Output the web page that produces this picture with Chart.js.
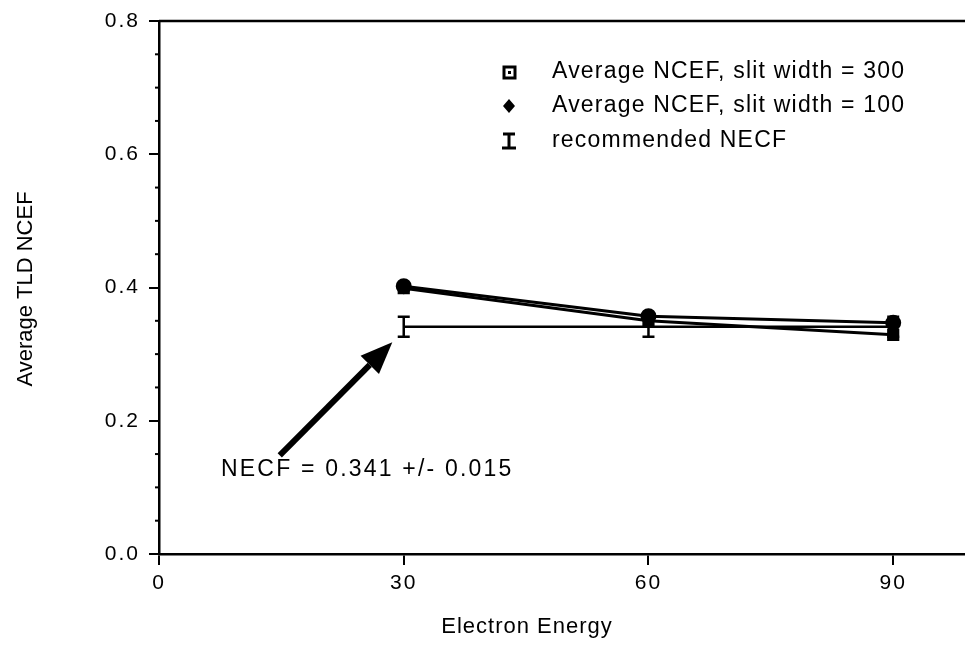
<!DOCTYPE html>
<html>
<head>
<meta charset="utf-8">
<script src="https://cdn.jsdelivr.net/npm/chart.js@4.4.0/dist/chart.umd.min.js"></script>
<style>
body { margin: 0; background: #fff; }
#wrap { width: 965px; height: 652px; }
</style>
</head>
<body>
<div id="wrap"><canvas id="chart"></canvas></div>
<script>
const energies = [30, 60, 90];
const ncefSlit300 = [0.399, 0.350, 0.329];
const ncefSlit100 = [0.402, 0.357, 0.347];
const recommendedNecf = [0.341, 0.341, 0.341];
const recommendedErr = [0.015, 0.015, 0.015];
const legendLabels = ["Average NCEF, slit width = 300", "Average NCEF, slit width = 100", "recommended NECF"];
const noteText = "NECF = 0.341 +/- 0.015";
const xTitle = "Electron Energy";
const yTitle = "Average TLD NCEF";

const FONT = '"Liberation Sans", Arial, Helvetica, sans-serif';

function pts(ys) {
    return energies.map((x, i) => ({ x: x, y: ys[i] }));
}

// draws the extra bits: error bars, legend, arrow note, titles, minor ticks
const extras = {
    id: 'extras',
    beforeDraw(chart) {
        const ctx = chart.ctx;
        ctx.save();
        ctx.fillStyle = '#fff';
        ctx.fillRect(0, 0, chart.width, chart.height);
        ctx.restore();
        ctx.letterSpacing = '2px';
    },
    afterDatasetDraw(chart, args) {
        if (args.index !== 2) return;
        const ctx = chart.ctx;
        const xs = chart.scales.x, ys = chart.scales.y;
        ctx.save();
        ctx.strokeStyle = '#000';
        ctx.lineWidth = 2.5;
        recommendedNecf.forEach((v, i) => {
            const px = xs.getPixelForValue(energies[i]);
            const top = ys.getPixelForValue(v + recommendedErr[i]);
            const bot = ys.getPixelForValue(v - recommendedErr[i]);
            ctx.beginPath();
            ctx.moveTo(px, top); ctx.lineTo(px, bot);
            ctx.moveTo(px - 6, top); ctx.lineTo(px + 6, top);
            ctx.moveTo(px - 6, bot); ctx.lineTo(px + 6, bot);
            ctx.stroke();
        });
        ctx.restore();
    },
    afterDraw(chart) {
        const ctx = chart.ctx;
        const a = chart.chartArea;
        const xs = chart.scales.x, ys = chart.scales.y;
        ctx.save();
        ctx.strokeStyle = '#000';
        ctx.fillStyle = '#000';

        // top frame line
        ctx.lineWidth = 2.5;
        ctx.beginPath();
        ctx.moveTo(a.left, a.top);
        ctx.lineTo(chart.width, a.top);
        ctx.stroke();

        // minor ticks on y
        ctx.lineWidth = 2;
        for (let v = 0.05; v < 0.8; v += 0.05) {
            const r = Math.round(v * 100);
            if (r % 20 === 0) continue;
            const py = ys.getPixelForValue(v);
            ctx.beginPath();
            ctx.moveTo(a.left - 4, py);
            ctx.lineTo(a.left, py);
            ctx.stroke();
        }

        // legend
        const lx = 509, tx = 552;
        const rows = [72, 106, 141];
        ctx.font = '23px ' + FONT;
        ctx.letterSpacing = '1.2px';
        ctx.textBaseline = 'middle';
        ctx.textAlign = 'left';
        legendLabels.forEach((t, i) => ctx.fillText(t, tx, rows[i]));
        ctx.lineWidth = 3;
        ctx.strokeRect(lx - 5, rows[0] - 5, 11, 11);
        ctx.fillRect(lx - 1, rows[0] - 1, 3, 3);
        ctx.beginPath();
        ctx.moveTo(lx, rows[1] - 7); ctx.lineTo(lx + 6, rows[1]);
        ctx.lineTo(lx, rows[1] + 7); ctx.lineTo(lx - 6, rows[1]);
        ctx.closePath(); ctx.fill();
        ctx.lineWidth = 3;
        ctx.beginPath();
        ctx.moveTo(lx - 6, rows[2] - 7); ctx.lineTo(lx + 6, rows[2] - 7);
        ctx.moveTo(lx, rows[2] - 7); ctx.lineTo(lx, rows[2] + 7);
        ctx.moveTo(lx - 7, rows[2] + 7); ctx.lineTo(lx + 7, rows[2] + 7);
        ctx.stroke();

        // arrow note
        const x0 = xs.getPixelForValue(14.8), y0 = ys.getPixelForValue(0.148);
        const x1 = xs.getPixelForValue(28.6), y1 = ys.getPixelForValue(0.318);
        const ang = Math.atan2(y1 - y0, x1 - x0);
        const hl = 32, hw = 13;
        const bx = x1 - hl * Math.cos(ang), by = y1 - hl * Math.sin(ang);
        ctx.lineWidth = 6;
        ctx.beginPath();
        ctx.moveTo(x0, y0); ctx.lineTo(bx, by);
        ctx.stroke();
        ctx.beginPath();
        ctx.moveTo(x1, y1);
        ctx.lineTo(bx + hw * Math.sin(ang), by - hw * Math.cos(ang));
        ctx.lineTo(bx - hw * Math.sin(ang), by + hw * Math.cos(ang));
        ctx.closePath();
        ctx.fill();

        ctx.font = '23px ' + FONT;
        ctx.letterSpacing = '2.2px';
        ctx.fillText(noteText, xs.getPixelForValue(7.6), ys.getPixelForValue(0.126));

        // axis titles
        ctx.font = '22px ' + FONT;
        ctx.letterSpacing = '1px';
        ctx.textAlign = 'center';
        ctx.fillText(xTitle, 527, 627);
        ctx.translate(26, 289);
        ctx.rotate(-Math.PI / 2);
        ctx.letterSpacing = '0px';
        ctx.fillText(yTitle, 0, 0);
        ctx.restore();
        ctx.letterSpacing = '0px';
    }
};

new Chart(document.getElementById('chart'), {
    type: 'line',
    data: {
        datasets: [
            {
                label: legendLabels[0],
                data: pts(ncefSlit300),
                borderColor: '#000',
                backgroundColor: '#000',
                borderWidth: 3,
                pointStyle: 'rect',
                pointRadius: 6.5,
                order: 1
            },
            {
                label: legendLabels[1],
                data: pts(ncefSlit100),
                borderColor: '#000',
                backgroundColor: '#000',
                borderWidth: 3,
                pointStyle: 'circle',
                pointRadius: 6.5,
                order: 2
            },
            {
                label: legendLabels[2],
                data: pts(recommendedNecf),
                borderColor: '#000',
                borderWidth: 2.5,
                pointRadius: 0,
                order: 3
            }
        ]
    },
    options: {
        responsive: true,
        maintainAspectRatio: false,
        animation: false,
        layout: { autoPadding: false, padding: { top: 21, right: 0, left: 0, bottom: 0 } },
        plugins: {
            legend: { display: false },
            tooltip: { enabled: false }
        },
        scales: {
            x: {
                type: 'linear',
                min: 0,
                max: 98.8,
                afterFit: s => { s.height = 98; s.paddingRight = 0; s.paddingLeft = 0; },
                ticks: {
                    stepSize: 30,
                    includeBounds: false,
                    color: '#000',
                    font: { family: FONT, size: 21 },
                    padding: 6,
                    maxRotation: 0
                },
                grid: { drawOnChartArea: false, drawTicks: true, tickLength: 11, color: '#000', lineWidth: 2 },
                border: { color: '#000', width: 2.5 }
            },
            y: {
                min: 0,
                max: 0.8,
                afterFit: s => { s.width = 159; s.paddingTop = 0; s.paddingBottom = 0; },
                ticks: {
                    stepSize: 0.2,
                    color: '#000',
                    font: { family: FONT, size: 21 },
                    padding: 9,
                    callback: v => v.toFixed(1)
                },
                grid: { drawOnChartArea: false, drawTicks: true, tickLength: 10, color: '#000', lineWidth: 2 },
                border: { color: '#000', width: 2.5 }
            }
        }
    },
    plugins: [extras]
});
</script>
</body>
</html>
